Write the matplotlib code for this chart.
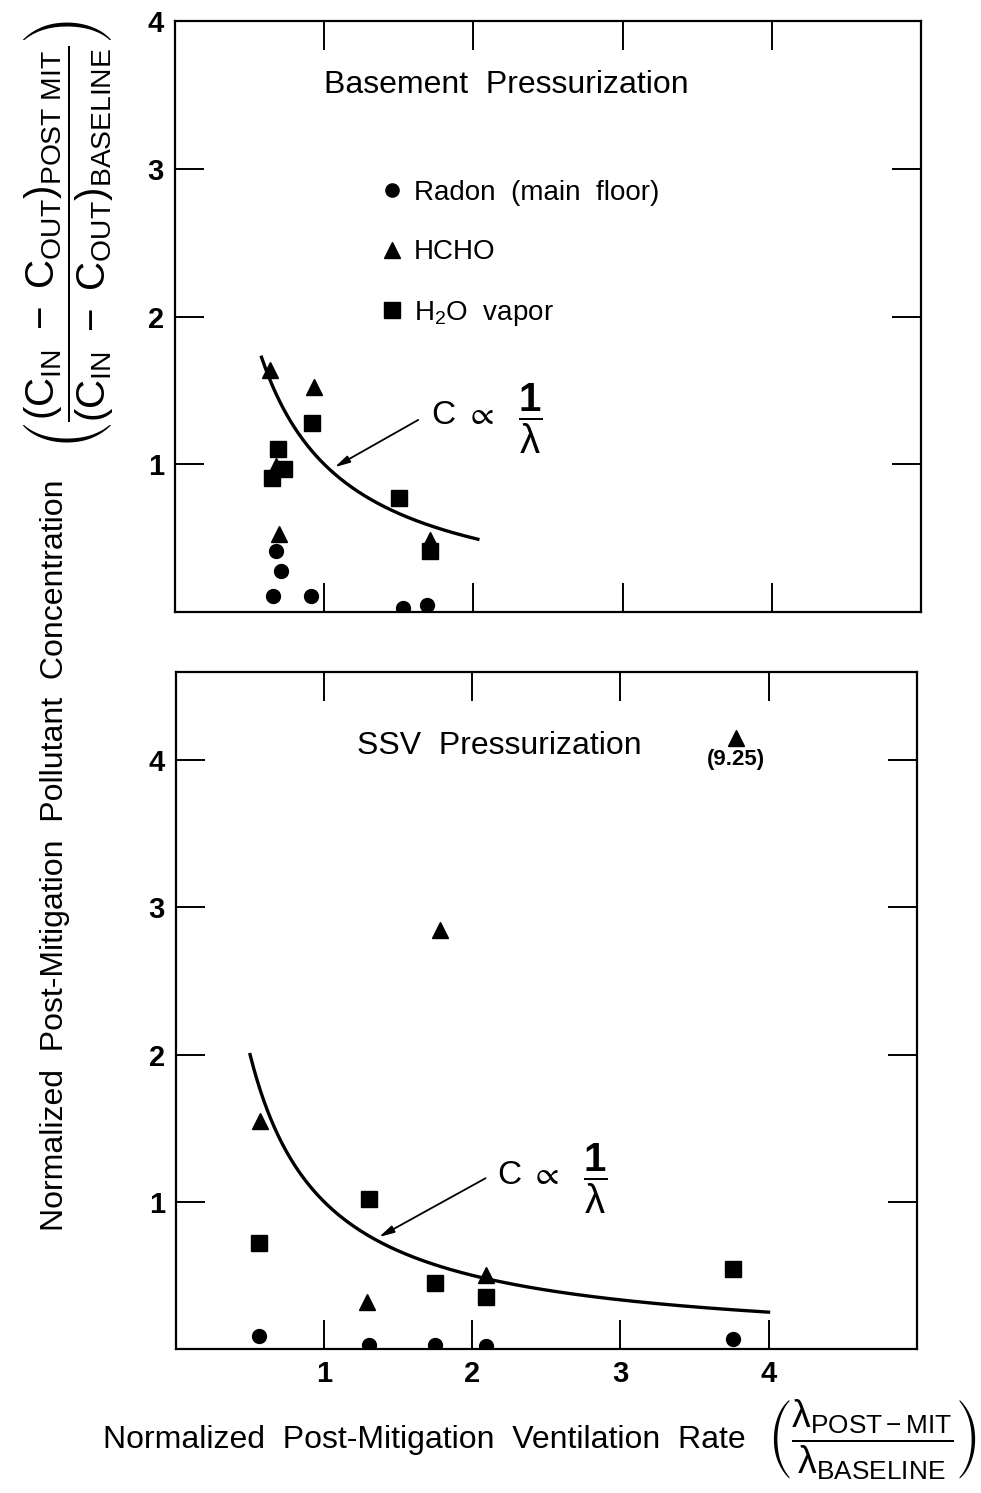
import numpy as np
import matplotlib
matplotlib.use("Agg")
import matplotlib.pyplot as plt

plt.rcParams["font.family"] = ["Liberation Sans", "DejaVu Sans"]
plt.rcParams["mathtext.fontset"] = "custom"
plt.rcParams["mathtext.rm"] = "Liberation Sans"
plt.rcParams["mathtext.it"] = "Liberation Sans"
plt.rcParams["mathtext.bf"] = "Liberation Sans:bold"
plt.rcParams["mathtext.sf"] = "Liberation Sans"
plt.rcParams["mathtext.default"] = "regular"
plt.rcParams["mathtext.fallback"] = "stixsans"

# ---- Basement pressurization ----
bp_radon_x = [0.68, 0.71, 0.66, 0.91, 1.53, 1.69]
bp_radon_y = [0.41, 0.28, 0.11, 0.11, 0.03, 0.05]
bp_hcho_x = [0.64, 0.93, 0.68, 0.70, 1.71]
bp_hcho_y = [1.64, 1.52, 0.99, 0.53, 0.49]
bp_h2o_x = [0.69, 0.73, 0.65, 0.92, 1.50, 1.71]
bp_h2o_y = [1.10, 0.97, 0.91, 1.28, 0.77, 0.41]
bp_curve_range = [0.58, 2.03]

# ---- SSV pressurization ----
ssv_radon_x = [0.56, 1.30, 1.75, 2.09, 3.76]
ssv_radon_y = [0.09, 0.03, 0.025, 0.02, 0.07]
ssv_hcho_x = [0.57, 1.29, 1.78, 2.09, 3.78]
ssv_hcho_y = [1.55, 0.32, 2.85, 0.50, 4.15]
ssv_h2o_x = [0.56, 1.30, 1.75, 2.09, 3.76]
ssv_h2o_y = [0.72, 1.02, 0.45, 0.35, 0.54]
ssv_curve_range = [0.50, 4.00]
ssv_offscale_label = "(9.25)"

x_ticks = [1, 2, 3, 4]
y_ticks = [1, 2, 3, 4]
legend_labels = ["Radon  (main  floor)", "HCHO", "H$_2$O  vapor"]

fig = plt.figure(figsize=(9.81, 14.93), dpi=100)
ax1 = fig.add_axes([0.1784, 0.5901, 0.7604, 0.3958])
ax2 = fig.add_axes([0.1794, 0.0965, 0.7550, 0.4534])

MS_C, MS_T, MS_S = 10, 11.5, 11.5


def style_axes(ax, ymax, show_xlabels):
    ax.set_xlim(0, 5)
    ax.set_ylim(0, ymax)
    ax.set_xticks(x_ticks)
    ax.set_yticks(y_ticks)
    ax.tick_params(axis="both", which="major", direction="in", length=21,
                   width=1.4, top=True, right=True, labelsize=21, pad=8)
    for lab in ax.get_yticklabels() + ax.get_xticklabels():
        lab.set_fontweight("bold")
    if not show_xlabels:
        ax.set_xticklabels([])
    for s in ax.spines.values():
        s.set_linewidth(1.6)


def draw_panel(ax, rx, ry, hx, hy, wx, wy, crange):
    c = ax.plot(rx, ry, "o", color="black", ms=MS_C, zorder=3)[0]
    t = ax.plot(hx, hy, "^", color="black", ms=MS_T, zorder=3)[0]
    s = ax.plot(wx, wy, "s", color="black", ms=MS_S, zorder=4)[0]
    lam = np.linspace(crange[0], crange[1], 300)
    ax.plot(lam, 1.0 / lam, color="black", lw=2.4, zorder=2)
    return c, t, s


def prop_label(ax, xy_text, xy_head, cx, cy):
    ax.annotate("", xy=xy_head, xytext=xy_text,
                arrowprops=dict(arrowstyle="-|>,head_length=0.9,head_width=0.22",
                                color="black", lw=1.3, shrinkA=0, shrinkB=0))
    ax.text(cx, cy, "C", fontsize=24, ha="center", va="center")
    ax.text(cx + 0.24, cy, r"$\propto$", fontsize=24, ha="center", va="center")
    ax.text(cx + 0.58, cy - 0.02, r"$\dfrac{\mathbf{1}}{\lambda}$", fontsize=29,
            ha="center", va="center")


style_axes(ax1, 4, False)
style_axes(ax2, 4.6, True)

h_c, h_t, h_s = draw_panel(ax1, bp_radon_x, bp_radon_y, bp_hcho_x, bp_hcho_y,
                           bp_h2o_x, bp_h2o_y, bp_curve_range)
draw_panel(ax2, ssv_radon_x, ssv_radon_y, ssv_hcho_x, ssv_hcho_y,
           ssv_h2o_x, ssv_h2o_y, ssv_curve_range)

ax1.text(2.22, 3.57, "Basement  Pressurization", fontsize=23,
         ha="center", va="center")
ax2.text(2.18, 4.10, "SSV  Pressurization", fontsize=23,
         ha="center", va="center")
ax2.text(ssv_hcho_x[4], ssv_hcho_y[4] - 0.07, ssv_offscale_label,
         fontsize=16, fontweight="bold", ha="center", va="top")

leg = ax1.legend([h_c, h_t, h_s], legend_labels, loc="center left",
                 bbox_to_anchor=(0.276, 0.606), frameon=False, fontsize=20,
                 handlelength=0.8, handletextpad=0.4, labelspacing=1.2,
                 borderpad=0, borderaxespad=0, markerscale=0.95)

prop_label(ax1, (1.63, 1.30), (1.07, 0.98), 1.80, 1.33)
prop_label(ax2, (2.09, 1.16), (1.37, 0.76), 2.25, 1.18)

# axis titles
fig.text(0.433, 0.0355, "Normalized  Post-Mitigation  Ventilation  Rate",
         fontsize=23, ha="center", va="center")
fig.text(0.889, 0.0355,
         r"$\left(\dfrac{\lambda_{POST-MIT}}{\lambda_{BASELINE}}\right)$",
         fontsize=27, ha="center", va="center")
fig.text(0.056, 0.4273,
         "Normalized  Post-Mitigation  Pollutant  Concentration",
         fontsize=23, ha="center", va="center", rotation=90)
fig.text(0.069, 0.8426,
         r"$\left(\dfrac{(C_{IN}\ -\ C_{OUT})_{POST\ MIT}}{(C_{IN}\ -\ C_{OUT})_{BASELINE}}\right)$",
         fontsize=29, ha="center", va="center", rotation=90)

fig.savefig("out.png", dpi=100, facecolor="white")
